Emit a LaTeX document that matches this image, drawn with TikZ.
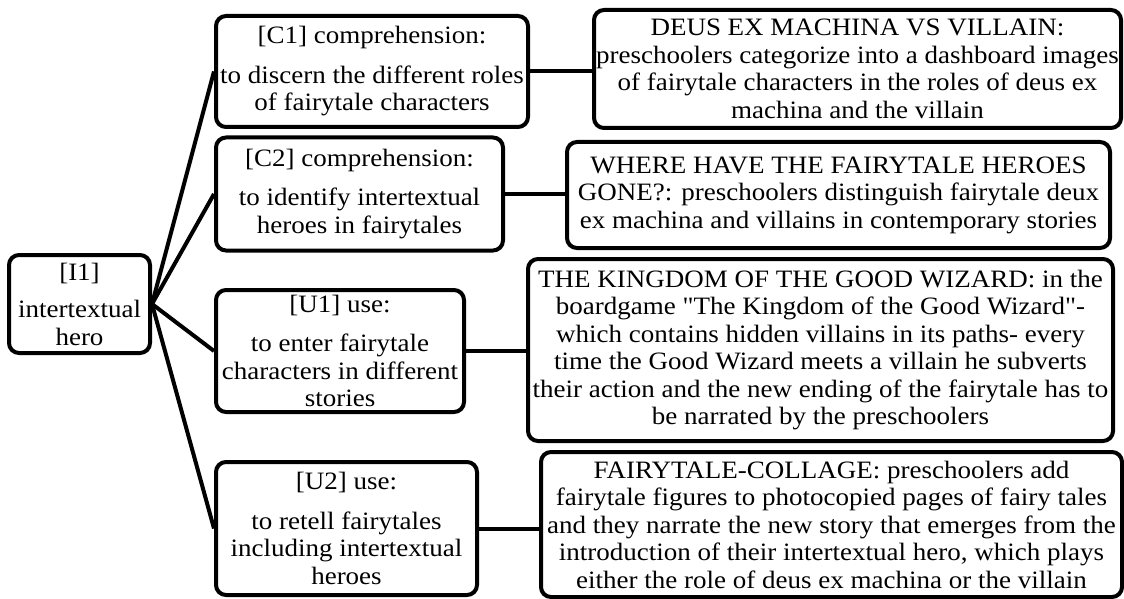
\documentclass[tikz,border=0pt]{standalone}
\usepackage{fontspec}
\setmainfont[FakeStretch=1.08,Ligatures=TeXOff]{Liberation Serif}
\begin{document}
\begin{tikzpicture}[x=1pt,y=-1pt,
  box/.style={draw=black, line width=4pt, rounded corners=10pt, align=center, inner sep=0pt,
    font=\fontsize{25}{27.5}\selectfont},
  link/.style={line width=4pt}]
\useasboundingbox (0,0) rectangle (1124,599);
\node[box, minimum width=141pt, minimum height=98pt] (I1) at (79.5,304) {[I1]\\[10pt]intertextual\\hero};
\node[box, minimum width=312pt, minimum height=111pt] (C1) at (372,71.5) {[C1] comprehension:\\[12pt]to discern the different roles\\of fairytale characters};
\node[box, minimum width=287pt, minimum height=113pt] (C2) at (359.5,194) {[C2] comprehension:\\[12pt]to identify intertextual\\heroes in fairytales};
\node[box, minimum width=248pt, minimum height=122pt] (U1) at (340,351) {[U1] use:\\[12pt]to enter fairytale\\characters in different\\stories};
\node[box, minimum width=261pt, minimum height=133pt] (U2) at (346.5,528.5) {[U2] use:\\[12pt]to retell fairytales\\including intertextual\\heroes};
\node[box, minimum width=527pt, minimum height=118pt] (D1) at (857.5,69) {DEUS EX MACHINA VS VILLAIN:\\preschoolers categorize into a dashboard images\\of fairytale characters in the roles of deus ex\\machina and the villain};
\node[box, minimum width=543pt, minimum height=106pt] (D2) at (838.5,195) {WHERE HAVE THE FAIRYTALE HEROES\\GONE?: preschoolers distinguish fairytale deux\\ex machina and villains in contemporary stories};
\node[box, minimum width=585pt, minimum height=182pt] (D3) at (820.5,350) {THE KINGDOM OF THE GOOD WIZARD: in the\\boardgame "The Kingdom of the Good Wizard"-\\which contains hidden villains in its paths- every\\time the Good Wizard meets a villain he subverts\\their action and the new ending of the fairytale has to\\be narrated by the preschoolers};
\node[box, minimum width=581pt, minimum height=145pt] (D4) at (831.5,524.5) {FAIRYTALE-COLLAGE: preschoolers add\\fairytale figures to photocopied pages of fairy tales\\and they narrate the new story that emerges from the\\introduction of their intertextual hero, which plays\\either the role of deus ex machina or the villain};
\draw[link] (I1.east) -- (C1.west);
\draw[link] (I1.east) -- (C2.west);
\draw[link] (I1.east) -- (U1.west);
\draw[link] (I1.east) -- (U2.west);
\draw[link] (C1.east) -- (C1.east -| D1.west);
\draw[link] (C2.east) -- (C2.east -| D2.west);
\draw[link] (U1.east) -- (U1.east -| D3.west);
\draw[link] (U2.east) -- (U2.east -| D4.west);
\end{tikzpicture}
\end{document}
